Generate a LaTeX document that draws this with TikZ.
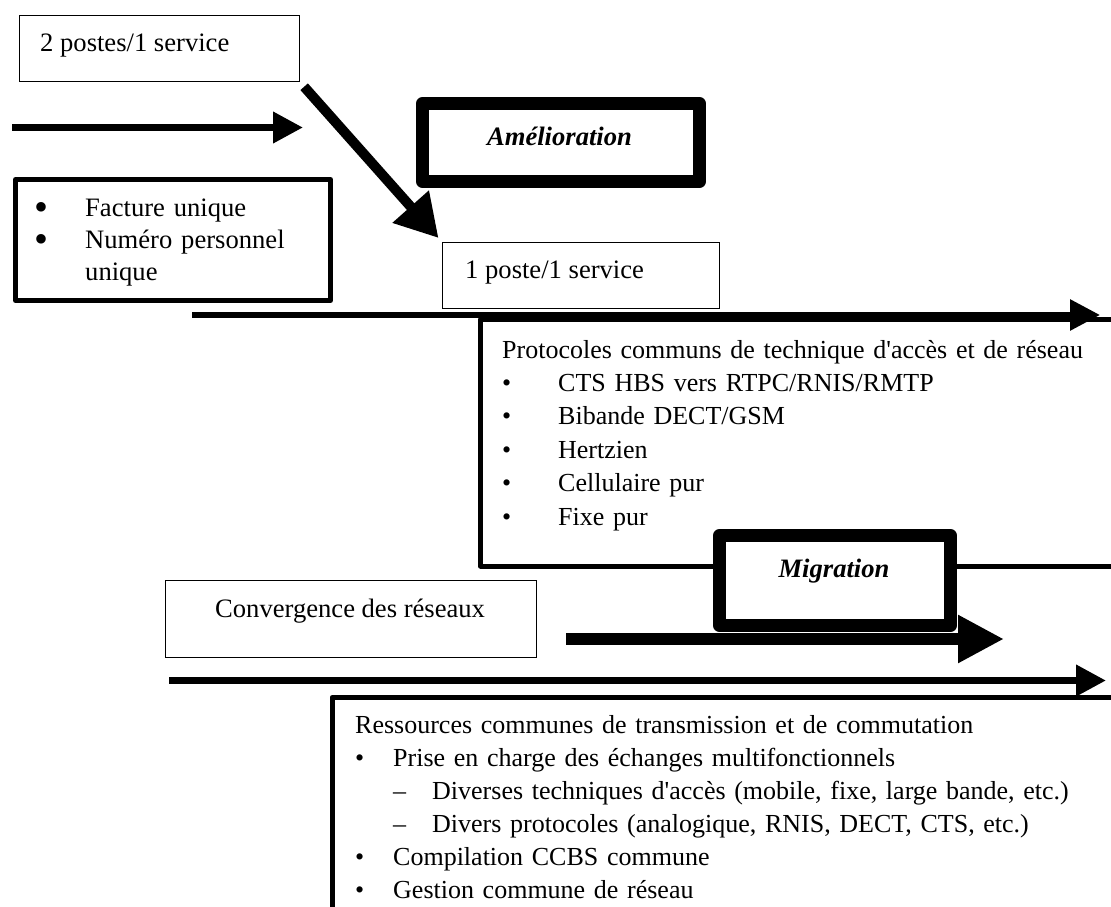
\documentclass[tikz,border=0pt]{standalone}
\usepackage{fontspec}
\setmainfont{Liberation Serif}
\usetikzlibrary{arrows.meta}
\tikzstyle{thinbox} = [
    rectangle,
    draw=black,
    line width=1.2pt,
    fill=white,
    inner sep=0pt,
    outer sep=0pt,
    anchor=north west
]
\tikzstyle{thickbox} = [
    rectangle,
    draw=black,
    line width=13pt,
    line join=round,
    fill=white,
    inner sep=0pt,
    outer sep=0pt,
    anchor=north west
]
\tikzstyle{listbox} = [
    rectangle,
    draw=black,
    line width=5pt,
    line join=round,
    inner sep=0pt,
    outer sep=0pt,
    anchor=north west
]
\tikzstyle{boxtext} = [
    inner sep=0pt,
    font=\fontsize{26.6}{33.4}\selectfont
]
\tikzstyle{listtext} = [
    boxtext,
    anchor=north west,
    text width=800pt,
    align=left
]
\tikzstyle{arrow} = [line width=7pt, -{Triangle[length=30pt,width=30pt]}]
\tikzstyle{fatarrow} = [line width=10pt, -{Triangle[length=42pt,width=46pt]}]
\tikzstyle{migarrow} = [line width=12pt, -{Triangle[length=46pt,width=45pt]}]
\newcommand{\itemdot}[1]{\makebox[#1][l]{\textbullet}}
\newcommand{\bigdot}{\makebox[51pt][l]{\raisebox{-4pt}{\scalebox{1.5}{\textbullet}}}}
\newcommand{\apos}{\textquotesingle}

\begin{document}
\begin{tikzpicture}[x=1pt, y=-1pt]
\useasboundingbox (0,0) rectangle (1111,907);
\clip (0,0) rectangle (1111,907);

\node (poste2) [thinbox, minimum width=280pt, minimum height=66pt] at (19.5,15.5) {};
\node (poste2Text) [boxtext, anchor=base west] at (40,52) {2 postes/1 service};

\node (amelio) [thickbox, minimum width=277pt, minimum height=78pt] at (422.5,103.5) {};
\node (amelioText) [boxtext, anchor=base] at (559.5,145) {\textbf{\textit{Amélioration}}};

\node (facture) [listbox, fill=white, minimum width=315pt, minimum height=121pt] at (15.5,179.5) {};
\node (factureText) [listtext, font=\fontsize{26.6}{32}\selectfont] at (34,193.6)
{\strut\bigdot Facture unique\\
\bigdot Numéro personnel\\
\hspace*{51pt}unique};

\node (poste1) [thinbox, minimum width=277pt, minimum height=66pt] at (442.5,242.5) {};
\node (poste1Text) [boxtext, anchor=base west] at (465,278) {1 poste/1 service};

\node (proto) [listbox, minimum width=660pt, minimum height=247pt] at (480.5,319) {};
\node (protoText) [listtext, font=\fontsize{26}{33.4}\selectfont] at (502,334.6)
{\strut Protocoles communs de technique d\apos accès et de réseau\\
\itemdot{56pt}CTS HBS vers RTPC/RNIS/RMTP\\
\itemdot{56pt}Bibande DECT/GSM\\
\itemdot{56pt}Hertzien\\
\itemdot{56pt}Cellulaire pur\\
\itemdot{56pt}Fixe pur};

\node (migr) [thickbox, minimum width=231pt, minimum height=90pt] at (719.5,535.5) {};
\node (migrText) [boxtext, anchor=base] at (834,577) {\textbf{\textit{Migration}}};

\node (conv) [thinbox, minimum width=371pt, minimum height=77pt] at (165.5,580.5) {};
\node (convText) [boxtext, anchor=base west] at (215,617) {Convergence des réseaux};

\node (res) [listbox, minimum width=800pt, minimum height=260pt] at (332,697.5) {};
\node (resText) [listtext, font=\fontsize{26}{33}\selectfont] at (355,709.9)
{\strut Ressources communes de transmission et de commutation\\
\itemdot{38pt}Prise en charge des échanges multifonctionnels\\
\hspace*{38pt}\makebox[39pt][l]{–}Diverses techniques d\apos accès (mobile, fixe, large bande, etc.)\\
\hspace*{38pt}\makebox[39pt][l]{–}Divers protocoles (analogique, RNIS, DECT, CTS, etc.)\\
\itemdot{38pt}Compilation CCBS commune\\
\itemdot{38pt}Gestion commune de réseau};

\coordinate (topStart) at (12,127.5);
\coordinate (topEnd) at (303,127.5);
\coordinate (longStart) at (192,315);
\coordinate (longEnd) at (1100,315);
\coordinate (migStart) at (566,639);
\coordinate (migEnd) at (1004,639);
\coordinate (lowStart) at (169,680.5);
\coordinate (lowEnd) at (1106,680.5);

\draw [arrow] (topStart) -- (topEnd);
\draw [fatarrow, shorten <=7pt, shorten >=6pt] (poste2.south east) -- (poste1.north west);
\draw [arrow, line width=6pt] (longStart) -- (longEnd);
\draw [migarrow] (migStart) -- (migEnd);
\draw [arrow] (lowStart) -- (lowEnd);

\end{tikzpicture}
\end{document}
